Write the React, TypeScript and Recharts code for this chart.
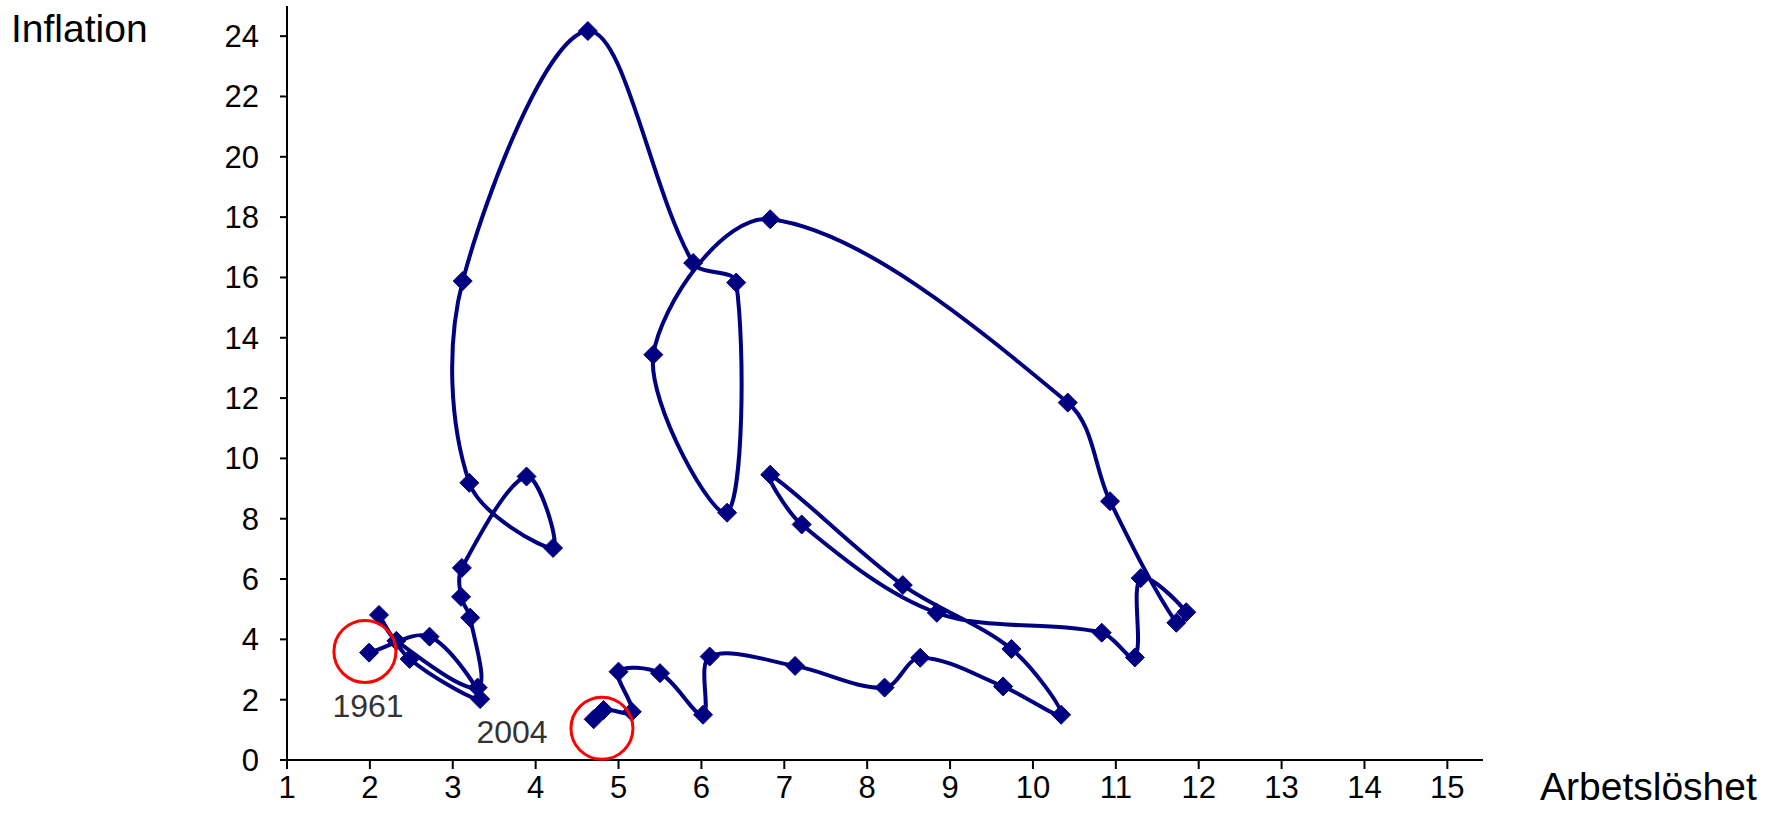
import React from 'react';
import { LineChart, Line, XAxis, YAxis, ReferenceDot } from 'recharts';

const years = [
  1961, 1962, 1963, 1964, 1965, 1966, 1967, 1968, 1969, 1970,
  1971, 1972, 1973, 1974, 1975, 1976, 1977, 1978, 1979, 1980,
  1981, 1982, 1983, 1984, 1985, 1986, 1987, 1988, 1989, 1990,
  1991, 1992, 1993, 1994, 1995, 1996, 1997, 1998, 1999, 2000,
  2001, 2002, 2003, 2004,
];

const unemployment = [
  1.99, 2.72, 3.33, 2.48, 2.11, 2.32, 3.3, 3.21, 3.1, 3.11,
  3.89, 4.21, 3.2, 3.12, 4.63, 5.9, 6.42, 6.31, 5.42, 6.83,
  10.42, 10.93, 11.73, 11.85, 11.3, 11.23, 10.83, 8.84, 7.21, 6.83,
  8.43, 9.74, 10.34, 9.64, 8.64, 8.21, 7.13, 6.1, 6.02, 5.5,
  5.0, 5.16, 4.82, 4.7,
];

const inflation = [
  3.56, 4.09, 2.02, 3.35, 4.81, 3.95, 2.4, 4.72, 5.41, 6.37,
  9.4, 7.03, 9.19, 15.88, 24.17, 16.48, 15.83, 8.2, 13.44, 17.93,
  11.85, 8.58, 4.55, 4.9, 6.03, 3.4, 4.22, 4.88, 7.81, 9.46,
  5.8, 3.68, 1.5, 2.44, 3.39, 2.4, 3.12, 3.43, 1.5, 2.88,
  2.93, 1.6, 1.66, 1.35,
];

const xTicks = [1, 2, 3, 4, 5, 6, 7, 8, 9, 10, 11, 12, 13, 14, 15];
const yTicks = [0, 2, 4, 6, 8, 10, 12, 14, 16, 18, 20, 22, 24];

const markedYears = [
  { label: '1961', cx: 1.94, cy: 3.6 },
  { label: '2004', cx: 4.8, cy: 1.05 },
];

const data = years.map((yr, i) => ({ year: yr, u: unemployment[i], inf: inflation[i] }));

const FONT = '"Liberation Sans", Arial, sans-serif';
const NAVY = '#000080';

function dist(a: number[], b: number[]) {
  return Math.hypot(a[0] - b[0], a[1] - b[1]);
}

// Smoothed line similar to a spreadsheet "smoothed line": Bezier segments whose
// handles follow the neighbour chord, scaled by the relative segment lengths.
function smoothCurve(context: any) {
  let pts: number[][] = [];
  return {
    areaStart() {},
    areaEnd() {},
    lineStart() {
      pts = [];
    },
    point(x: number, y: number) {
      pts.push([+x, +y]);
    },
    lineEnd() {
      const n = pts.length;
      if (!n) return;
      context.moveTo(pts[0][0], pts[0][1]);
      for (let i = 0; i < n - 1; i++) {
        const p0 = pts[Math.max(i - 1, 0)];
        const p1 = pts[i];
        const p2 = pts[i + 1];
        const p3 = pts[Math.min(i + 2, n - 1)];
        const d01 = dist(p0, p1);
        const d12 = dist(p1, p2);
        const d23 = dist(p2, p3);
        const f1 = d01 + d12 > 0 ? d12 / (3 * (d01 + d12)) : 0;
        const f2 = d12 + d23 > 0 ? d12 / (3 * (d12 + d23)) : 0;
        context.bezierCurveTo(
          p1[0] + (p2[0] - p0[0]) * f1,
          p1[1] + (p2[1] - p0[1]) * f1,
          p2[0] - (p3[0] - p1[0]) * f2,
          p2[1] - (p3[1] - p1[1]) * f2,
          p2[0],
          p2[1]
        );
      }
    },
  };
}

const Diamond = (props: any) => {
  const { cx, cy, index } = props;
  if (cx == null || cy == null) return <g key={`d-${index}`} />;
  const s = 9.5;
  return (
    <path
      key={`d-${index}`}
      d={`M${cx},${cy - s}L${cx + s},${cy}L${cx},${cy + s}L${cx - s},${cy}Z`}
      fill={NAVY}
      stroke={NAVY}
      strokeWidth={1}
    />
  );
};

export default function App() {
  return (
    <div style={{ position: 'absolute', left: 0, top: 0, width: 1789, height: 829, background: '#fff' }}>
      <LineChart width={1789} height={829} data={data} margin={{ top: 6, right: 306, bottom: 0, left: 0 }}>
        <XAxis
          type="number"
          dataKey="u"
          domain={[1, 15.43]}
          ticks={xTicks}
          interval={0}
          allowDataOverflow
          height={69}
          tickSize={9}
          tickMargin={7}
          axisLine={{ stroke: '#000', strokeWidth: 2 }}
          tickLine={{ stroke: '#000', strokeWidth: 2 }}
          tick={{ fill: '#000', fontSize: 31, fontFamily: FONT }}
        />
        <YAxis
          type="number"
          domain={[0, 25]}
          ticks={yTicks}
          interval={0}
          allowDataOverflow
          width={287}
          tickSize={7}
          tickMargin={21}
          axisLine={{ stroke: '#000', strokeWidth: 2 }}
          tickLine={{ stroke: '#000', strokeWidth: 2 }}
          tick={{ fill: '#000', fontSize: 31, fontFamily: FONT }}
        />
        <Line
          dataKey="inf"
          type={smoothCurve as any}
          stroke={NAVY}
          strokeWidth={4}
          dot={Diamond}
          activeDot={false}
          isAnimationActive={false}
        />
        {markedYears.map((m) => (
          <ReferenceDot
            key={m.label}
            x={m.cx}
            y={m.cy}
            r={31}
            fill="none"
            stroke="#ff0000"
            strokeWidth={3}
            ifOverflow="visible"
          />
        ))}
      </LineChart>
      <svg
        width={1789}
        height={829}
        style={{ position: 'absolute', left: 0, top: 0, pointerEvents: 'none' }}
      >
        <text x={11} y={42} fontSize={39} fontFamily={FONT} fill="#000">Inflation</text>
        <text x={1540} y={800} fontSize={39} fontFamily={FONT} fill="#000">Arbetslöshet</text>
        <text x={368} y={717} fontSize={32} fontFamily={FONT} fill="#333" textAnchor="middle">{markedYears[0].label}</text>
        <text x={512} y={743} fontSize={32} fontFamily={FONT} fill="#333" textAnchor="middle">{markedYears[1].label}</text>
      </svg>
    </div>
  );
}
